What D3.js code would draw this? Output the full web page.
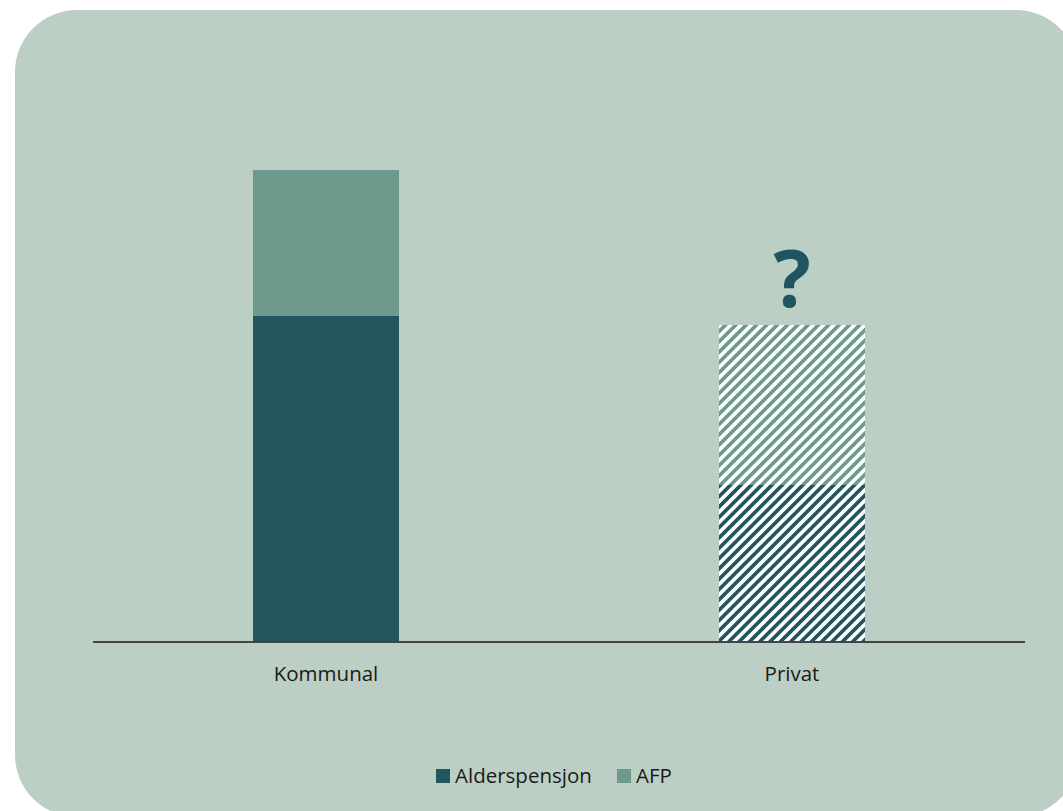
<!DOCTYPE html>
<html>
<head>
<meta charset="utf-8">
<script src="https://cdn.jsdelivr.net/npm/d3@7"></script>
<style>
  html, body { margin: 0; padding: 0; background: #ffffff; }
  svg { display: block; }
</style>
</head>
<body>
<script>
// Pension components per sector (share of former income, %)
const categories = ["Kommunal", "Privat"];
const seriesNames = ["Alderspensjon", "AFP"];
const alderspensjon = [45.6, 22.0];
const afp = [20.4, 22.4];
const uncertain = [false, true];   // Privat is drawn hatched with a question mark

const W = 1063, H = 811;
const colors = { Alderspensjon: "#22565f", AFP: "#6e9a8e" };
const font = "'Open Sans', 'Noto Sans', sans-serif";

const svg = d3.select("body").append("svg")
  .attr("width", W).attr("height", H);

// Card background
svg.append("rect")
  .attr("x", 15).attr("y", 10)
  .attr("width", 1063).attr("height", 807)
  .attr("rx", 62).attr("ry", 62)
  .attr("fill", "#bccfc5");

// Hatch patterns for the uncertain bar
const defs = svg.append("defs");
const period = 7.3, stripe = 3.4;
seriesNames.forEach(name => {
  const p = defs.append("pattern")
    .attr("id", "hatch-" + name)
    .attr("patternUnits", "userSpaceOnUse")
    .attr("width", period).attr("height", period)
    .attr("patternTransform", "rotate(45)");
  p.append("rect").attr("width", period).attr("height", period).attr("fill", colors[name]);
  p.append("rect").attr("width", stripe).attr("height", period).attr("fill", "#ffffff")
    .attr("shape-rendering", "crispEdges");
});

const x0 = 93, x1 = 1025, baseY = 642;
const x = d3.scaleBand()
  .domain(categories)
  .range([x0, x1])
  .paddingInner(0.686)
  .paddingOuter(0.343);

const y = d3.scaleLinear()
  .domain([0, 70])
  .range([baseY, baseY - 70 * 7.15]);

const rows = categories.map((c, i) => ({
  category: c,
  Alderspensjon: alderspensjon[i],
  AFP: afp[i],
  uncertain: uncertain[i]
}));

const stacked = d3.stack().keys(seriesNames)(rows);

stacked.forEach(layer => {
  svg.append("g").selectAll("rect")
    .data(layer)
    .join("rect")
    .attr("x", d => x(d.data.category))
    .attr("width", x.bandwidth())
    .attr("y", d => y(d[1]))
    .attr("height", d => y(d[0]) - y(d[1]))
    .attr("fill", d => d.data.uncertain ? `url(#hatch-${layer.key})` : colors[layer.key])
    .attr("shape-rendering", "crispEdges");
});

// Question mark above the uncertain bar
rows.filter(r => r.uncertain).forEach(r => {
  svg.append("text")
    .attr("x", x(r.category) + x.bandwidth() / 2)
    .attr("y", y(r.Alderspensjon + r.AFP) - 18)
    .attr("text-anchor", "middle")
    .attr("font-family", font)
    .attr("font-weight", 700)
    .attr("font-size", 78)
    .attr("fill", "#1f5560")
    .text("?");
});

// Category axis
const axis = svg.append("g")
  .attr("transform", `translate(0,${baseY})`)
  .call(d3.axisBottom(x).tickSize(0).tickPadding(24));
axis.select(".domain").attr("stroke", "#444444").attr("stroke-width", 2)
  .attr("d", `M${x0},0H${x1}`);
axis.selectAll("text")
  .attr("font-family", font)
  .attr("font-size", 20.5)
  .attr("fill", "#1a1a1a");

// Legend
const legend = svg.append("g").attr("transform", "translate(436,769)");
const legendItems = [
  { name: "Alderspensjon", dx: 0 },
  { name: "AFP", dx: 181 }
];
legendItems.forEach(it => {
  const g = legend.append("g").attr("transform", `translate(${it.dx},0)`);
  g.append("rect").attr("width", 14).attr("height", 14).attr("fill", colors[it.name]);
  g.append("text")
    .attr("x", 19).attr("y", 14)
    .attr("font-family", font)
    .attr("font-size", 20.5)
    .attr("fill", "#1a1a1a")
    .text(it.name);
});
</script>
</body>
</html>
